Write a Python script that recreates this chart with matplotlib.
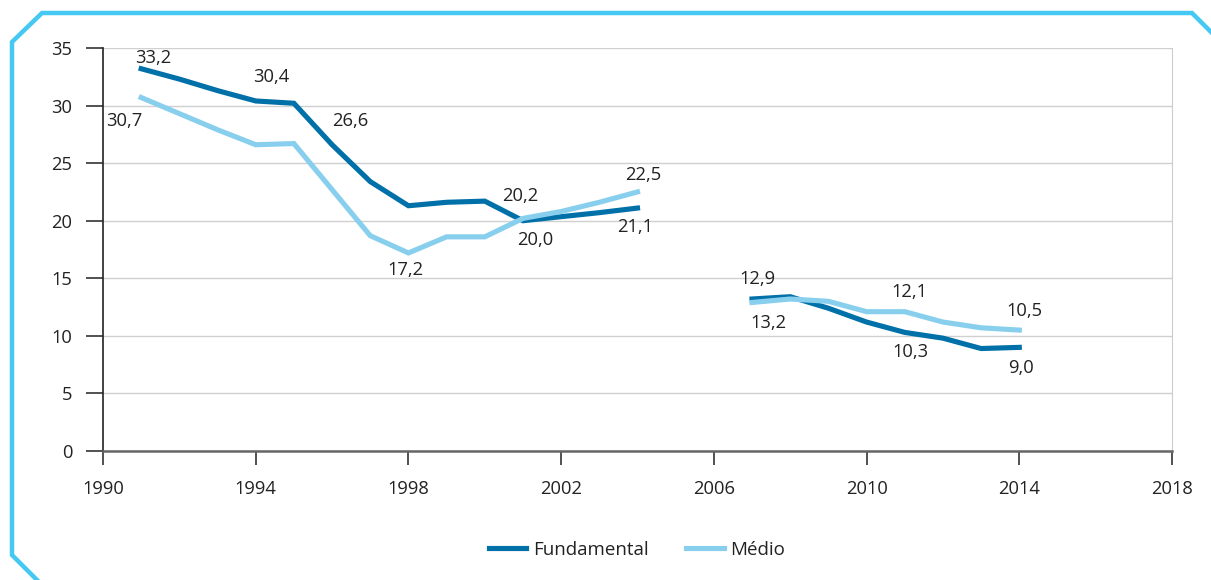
import numpy as np
import matplotlib
matplotlib.use('Agg')
import matplotlib.pyplot as plt
from matplotlib.lines import Line2D

plt.rcParams['font.family'] = ['Open Sans', 'DejaVu Sans']

# taxas por ano (duas séries, com lacuna 2005-2006)
anos1 = [1991, 1992, 1993, 1994, 1995, 1996, 1997, 1998, 1999, 2000, 2001, 2002, 2003, 2004]
fund1 = [33.2, 32.3, 31.3, 30.4, 30.2, 26.6, 23.4, 21.3, 21.6, 21.7, 20.0, 20.35, 20.7, 21.1]
medio1 = [30.7, 29.3, 27.9, 26.6, 26.7, 22.7, 18.7, 17.2, 18.6, 18.6, 20.2, 20.8, 21.6, 22.5]

anos2 = [2007, 2008, 2009, 2010, 2011, 2012, 2013, 2014]
fund2 = [13.2, 13.4, 12.4, 11.2, 10.3, 9.8, 8.9, 9.0]
medio2 = [12.9, 13.2, 13.0, 12.1, 12.1, 11.2, 10.7, 10.5]

xticks = list(range(1990, 2019, 4))
yticks = list(range(0, 36, 5))

# (serie, ano, deslocamento do rótulo em pontos)
rotulos = [
    ('F', 1991, (9, 8)), ('F', 1994, (11, 17)), ('M', 1991, (-12, -17)),
    ('F', 1996, (13, 17)), ('M', 1998, (-2, -12)), ('M', 2001, (-2, 16)),
    ('F', 2001, (9, -14)), ('M', 2004, (4, 12)), ('F', 2004, (-2, -14)),
    ('F', 2007, (12, -17)), ('M', 2007, (4, 17)), ('M', 2011, (3, 14)),
    ('F', 2011, (4, -14)), ('M', 2014, (4, 14)), ('F', 2014, (1, -15)),
]

c_fund = '#0070A8'
c_medio = '#88CFEE'
txt = '#222222'
fs = 13.2

fig = plt.figure(figsize=(12.11, 5.80), dpi=100)
ax = fig.add_axes([103/1211, 1-451/580, (1172-103)/1211, (451-48)/580])

for x, y in ((anos1, fund1), (anos2, fund2)):
    ax.plot(x, y, color=c_fund, lw=3.7, solid_joinstyle='miter', zorder=3)
for x, y in ((anos1, medio1), (anos2, medio2)):
    ax.plot(x, y, color=c_medio, lw=3.7, solid_joinstyle='miter', zorder=3)

serie = {'F': dict(zip(anos1 + anos2, fund1 + fund2)),
         'M': dict(zip(anos1 + anos2, medio1 + medio2))}
for s, ano, off in rotulos:
    v = serie[s][ano]
    ax.annotate(f'{v:.1f}'.replace('.', ','), (ano, v), xytext=off, textcoords='offset points',
                ha='center', va='center', fontsize=fs, color=txt)

ax.set_xlim(1990, 2018)
ax.set_ylim(0, 35)
ax.set_xticks(xticks)
ax.set_yticks(yticks)
ax.yaxis.grid(True, color='#d0d0d0', lw=1)
ax.set_axisbelow(True)

ax.spines['left'].set_color('#222222')
ax.spines['left'].set_linewidth(1.2)
ax.spines['bottom'].set_color('#666666')
ax.spines['bottom'].set_linewidth(1.8)
ax.spines['right'].set_color('#cccccc')
ax.spines['top'].set_visible(False)
ax.tick_params(axis='y', length=12, width=1.2, color='#333333', pad=10, labelsize=fs, labelcolor=txt)
ax.tick_params(axis='x', length=10, width=1.2, color='#333333', pad=11, labelsize=fs, labelcolor=txt)

handles = [Line2D([], [], color=c_fund, lw=3.7), Line2D([], [], color=c_medio, lw=3.7)]
fig.legend(handles, ['Fundamental', 'Médio'], loc='center', bbox_to_anchor=(637/1211, 1-550/580),
           ncol=2, frameon=False, fontsize=13.5, handlelength=2.0, handletextpad=0.35,
           columnspacing=2.0, labelcolor=txt)

# moldura azul com cantos chanfrados
moldura = [(40, 583), (12, 555), (12, 42), (42, 13), (1192, 13), (1215, 36)]
fig.add_artist(Line2D([p[0]/1211 for p in moldura], [1 - p[1]/580 for p in moldura],
                      transform=fig.transFigure, color='#45C8F2', lw=3.2,
                      solid_joinstyle='miter', clip_on=False))

fig.savefig('out.png', dpi=100)
